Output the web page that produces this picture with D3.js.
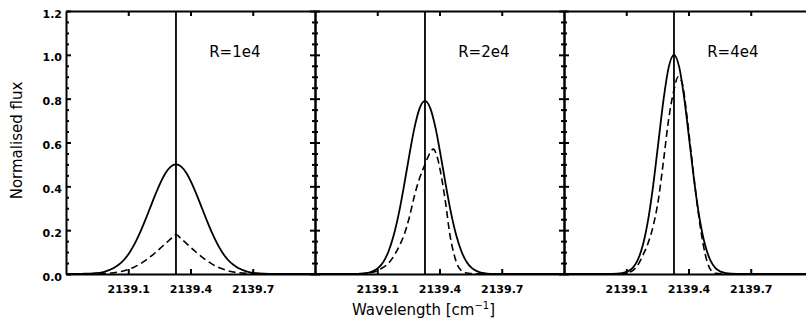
<!DOCTYPE html>
<html>
<head>
<meta charset="utf-8">
<script src="https://cdn.jsdelivr.net/npm/d3@7"></script>
<style>
body { margin: 0; background: #fff; }
svg { display: block; }
.axis path, .axis line { stroke: #000; }
.axis text { font-family: "DejaVu Sans", sans-serif; font-weight: bold; font-size: 11px; fill: #000; }
.title { font-family: "DejaVu Sans", sans-serif; font-size: 15px; fill: #000; }
</style>
</head>
<body>
<svg width="806" height="320"></svg>
<script>
// axis ticks and line centre
var xDomain = [2138.8, 2140.0];
var xTicks = [2139.1, 2139.4, 2139.7];
var yMajor = [0, 0.2, 0.4, 0.6, 0.8, 1.0, 1.2];
var yMinor = [0.05, 0.1, 0.15, 0.25, 0.3, 0.35, 0.45, 0.5, 0.55, 0.65, 0.7, 0.75, 0.85, 0.9, 0.95, 1.05, 1.1, 1.15];
var lineCentre = 2139.33;
var panelLabels = ["R=1e4", "R=2e4", "R=4e4"];

// R=1e4
var solid1X = [2138.80, 2138.88, 2138.93, 2138.98, 2139.03, 2139.055, 2139.08, 2139.105, 2139.13, 2139.155, 2139.18, 2139.205, 2139.23, 2139.255, 2139.28, 2139.305, 2139.33, 2139.355, 2139.38, 2139.405, 2139.43, 2139.455, 2139.48, 2139.505, 2139.53, 2139.555, 2139.58, 2139.605, 2139.63, 2139.68, 2139.73, 2139.78, 2140.00];
var solid1Y = [0, 0.001, 0.003, 0.009, 0.027, 0.043, 0.065, 0.096, 0.136, 0.185, 0.241, 0.301, 0.361, 0.416, 0.461, 0.490, 0.500, 0.490, 0.461, 0.416, 0.361, 0.301, 0.241, 0.185, 0.136, 0.096, 0.065, 0.043, 0.027, 0.009, 0.003, 0.001, 0];
var dash1X = [2138.80, 2138.93, 2139.03, 2139.08, 2139.13, 2139.18, 2139.23, 2139.255, 2139.28, 2139.305, 2139.33, 2139.355, 2139.38, 2139.405, 2139.43, 2139.48, 2139.53, 2139.58, 2139.63, 2139.73, 2140.00];
var dash1Y = [0, 0.001, 0.006, 0.015, 0.032, 0.06, 0.097, 0.118, 0.14, 0.16, 0.18, 0.16, 0.14, 0.118, 0.097, 0.06, 0.032, 0.015, 0.006, 0.001, 0];

// R=2e4
var solid2X = [2138.80, 2139.00, 2139.03, 2139.055, 2139.08, 2139.105, 2139.13, 2139.155, 2139.18, 2139.205, 2139.23, 2139.255, 2139.28, 2139.305, 2139.33, 2139.355, 2139.38, 2139.405, 2139.43, 2139.455, 2139.48, 2139.505, 2139.53, 2139.555, 2139.58, 2139.605, 2139.63, 2139.66, 2140.00];
var solid2Y = [0, 0.001, 0.002, 0.005, 0.013, 0.028, 0.056, 0.105, 0.179, 0.281, 0.408, 0.545, 0.670, 0.758, 0.790, 0.758, 0.670, 0.545, 0.408, 0.281, 0.179, 0.105, 0.056, 0.028, 0.013, 0.005, 0.002, 0.001, 0];
var dash2X = [2138.80, 2139.03, 2139.08, 2139.12, 2139.155, 2139.185, 2139.21, 2139.23, 2139.255, 2139.28, 2139.305, 2139.33, 2139.35, 2139.37, 2139.39, 2139.41, 2139.43, 2139.45, 2139.47, 2139.49, 2139.51, 2139.54, 2139.58, 2140.00];
var dash2Y = [0, 0.002, 0.008, 0.025, 0.05, 0.09, 0.135, 0.18, 0.26, 0.36, 0.44, 0.50, 0.545, 0.57, 0.53, 0.44, 0.32, 0.18, 0.09, 0.035, 0.012, 0.003, 0.001, 0];

// R=4e4
var solid3X = [2138.80, 2139.03, 2139.08, 2139.105, 2139.13, 2139.155, 2139.18, 2139.205, 2139.23, 2139.255, 2139.28, 2139.305, 2139.33, 2139.355, 2139.38, 2139.405, 2139.43, 2139.455, 2139.48, 2139.505, 2139.53, 2139.555, 2139.58, 2139.63, 2140.00];
var solid3Y = [0, 0.0003, 0.004, 0.011, 0.027, 0.063, 0.132, 0.245, 0.406, 0.602, 0.798, 0.945, 1.0, 0.945, 0.798, 0.602, 0.406, 0.245, 0.132, 0.063, 0.027, 0.011, 0.004, 0.0003, 0];
var dash3X = [2138.80, 2139.08, 2139.13, 2139.155, 2139.18, 2139.205, 2139.23, 2139.255, 2139.28, 2139.305, 2139.33, 2139.35, 2139.37, 2139.39, 2139.41, 2139.43, 2139.45, 2139.47, 2139.49, 2139.51, 2139.53, 2139.58, 2140.00];
var dash3Y = [0, 0.001, 0.015, 0.04, 0.085, 0.14, 0.22, 0.34, 0.52, 0.71, 0.84, 0.90, 0.87, 0.74, 0.575, 0.41, 0.26, 0.14, 0.055, 0.015, 0.003, 0, 0];

var panels = [
    {label: panelLabels[0], solid: d3.zip(solid1X, solid1Y), dash: d3.zip(dash1X, dash1Y)},
    {label: panelLabels[1], solid: d3.zip(solid2X, solid2Y), dash: d3.zip(dash2X, dash2Y)},
    {label: panelLabels[2], solid: d3.zip(solid3X, solid3Y), dash: d3.zip(dash3X, dash3Y)}
];

var svg = d3.select("svg"),
    plotLeft = 66, plotTop = 11, plotBottom = 274,
    panelWidth = 249;

var y = d3.scaleLinear().domain([0, 1.2]).range([plotBottom, plotTop]);
var fmt = d3.format(".1f");

panels.forEach(function(p, i) {
    var x0 = plotLeft + i * panelWidth;
    var x = d3.scaleLinear().domain(xDomain).range([x0, x0 + panelWidth]);

    svg.append("clipPath").attr("id", "clip" + i)
        .append("rect")
        .attr("x", x0).attr("y", plotTop)
        .attr("width", panelWidth).attr("height", plotBottom - plotTop);

    var g = svg.append("g").attr("clip-path", "url(#clip" + i + ")");

    // rest wavelength marker
    g.append("line")
        .attr("x1", x(lineCentre)).attr("x2", x(lineCentre))
        .attr("y1", plotTop).attr("y2", plotBottom)
        .attr("stroke", "#000").attr("stroke-width", 1.8);

    var line = d3.line()
        .x(function(d) { return x(d[0]); })
        .y(function(d) { return y(d[1]); })
        .curve(d3.curveMonotoneX);

    g.append("path")
        .attr("d", line(p.solid))
        .attr("fill", "none").attr("stroke", "#000").attr("stroke-width", 1.8);

    g.append("path")
        .attr("d", line(p.dash))
        .attr("fill", "none").attr("stroke", "#000").attr("stroke-width", 1.6)
        .attr("stroke-dasharray", "7,4");

    svg.append("text")
        .attr("class", "title")
        .attr("x", x(2139.49))
        .attr("y", 57)
        .text(p.label);

    // box: bottom, top, left, right
    svg.append("g")
        .attr("class", "axis")
        .attr("transform", "translate(0," + plotBottom + ")")
        .attr("stroke-width", 2)
        .call(d3.axisBottom(x).tickValues(xTicks).tickSizeInner(-5).tickSizeOuter(0)
            .tickPadding(11).tickFormat(fmt));

    svg.append("g")
        .attr("class", "axis")
        .attr("transform", "translate(0," + plotTop + ")")
        .attr("stroke-width", 2)
        .call(d3.axisTop(x).tickValues(xTicks).tickSizeInner(-5).tickSizeOuter(0).tickFormat(""));

    var yl = svg.append("g")
        .attr("class", "axis")
        .attr("transform", "translate(" + x0 + ",0)")
        .attr("stroke-width", 2)
        .call(d3.axisLeft(y).tickValues(yMajor).tickSizeInner(-5).tickSizeOuter(0)
            .tickPadding(4).tickFormat(i == 0 ? fmt : ""));
    yl.selectAll("text").attr("dy", "0.55em");

    svg.append("g")
        .attr("class", "axis")
        .attr("transform", "translate(" + x0 + ",0)")
        .attr("stroke-width", 2)
        .call(d3.axisLeft(y).tickValues(yMinor).tickSize(-3).tickFormat(""))
        .select(".domain").remove();

    svg.append("g")
        .attr("class", "axis")
        .attr("transform", "translate(" + (x0 + panelWidth) + ",0)")
        .attr("stroke-width", 2)
        .call(d3.axisRight(y).tickValues(yMajor).tickSizeInner(-5).tickSizeOuter(0).tickFormat(""));

    svg.append("g")
        .attr("class", "axis")
        .attr("transform", "translate(" + (x0 + panelWidth) + ",0)")
        .attr("stroke-width", 2)
        .call(d3.axisRight(y).tickValues(yMinor).tickSize(-3).tickFormat(""))
        .select(".domain").remove();
});

svg.append("text")
    .attr("class", "title")
    .attr("transform", "translate(22," + ((plotTop + plotBottom) / 2 - 2) + ") rotate(-90)")
    .attr("text-anchor", "middle")
    .text("Normalised flux");

var xt = svg.append("text")
    .attr("class", "title")
    .attr("x", 352)
    .attr("y", 315);
xt.append("tspan").text("Wavelength [cm");
xt.append("tspan").attr("font-size", "10px").attr("dy", -6).text("\u22121");
xt.append("tspan").attr("dy", 6).text("]");
</script>
</body>
</html>
